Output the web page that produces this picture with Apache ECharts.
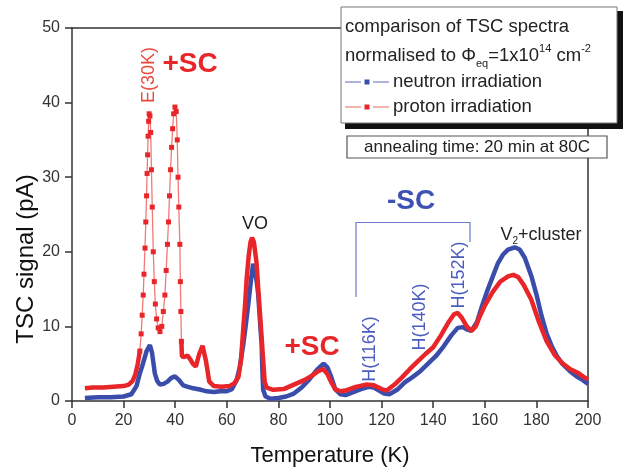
<!DOCTYPE html>
<html>
<head>
<meta charset="utf-8">
<script src="https://cdn.jsdelivr.net/npm/echarts@6/dist/echarts.min.js"></script>
<style>html,body{margin:0;padding:0;background:#fff;}#c{width:623px;height:472px;}</style>
</head>
<body>
<div id="c"></div>
<script>
// ---- data ----
const xTicks = [0, 20, 40, 60, 80, 100, 120, 140, 160, 180, 200];
const yTicks = [0, 10, 20, 30, 40, 50];

const neutronT = [5, 10, 15, 20, 23, 25, 26.3, 27.5, 28.9, 30.2, 31, 31.6, 32.1, 33, 34.1, 35.5, 37, 38.5, 39.9, 41.5, 43.1, 45, 47, 50, 52.2, 55, 57.3, 60, 62, 63.8, 65, 66.4, 67.4, 68.3, 69.3, 70.2, 71, 71.6, 72.2, 72.8, 73.5, 73.8, 74.1, 75, 77, 80, 83, 86, 89, 92, 95, 97.5, 99, 100.5, 102, 104, 106, 109, 112, 115, 117, 119, 121, 123, 126, 129, 132, 135, 138, 141, 144, 147, 149.5, 151.5, 153, 154.8, 157, 159, 161, 163, 165, 167, 169, 171.6, 173.5, 175.5, 178, 180, 182, 184, 186, 188, 190, 193, 196, 198, 200];
const neutronV = [0.4, 0.5, 0.5, 0.6, 0.9, 2.0, 3.7, 5.0, 6.7, 7.5, 6.5, 5.0, 3.7, 2.7, 2.2, 2.3, 2.6, 3.1, 3.3, 2.8, 2.1, 1.9, 1.7, 1.5, 1.3, 1.2, 1.3, 1.3, 1.6, 2.8, 4.5, 7.6, 10.3, 12.9, 16.0, 18.4, 17.3, 16.0, 14.2, 11.0, 7.6, 4.0, 1.5, 0.6, 0.3, 0.4, 0.6, 1.0, 1.8, 2.9, 4.2, 5.0, 4.5, 3.2, 1.6, 0.9, 0.8, 1.2, 1.6, 1.9, 1.8, 1.4, 1.0, 0.9, 1.5, 2.5, 3.2, 4.0, 5.0, 6.0, 7.3, 8.8, 9.8, 9.9, 9.6, 9.4, 10.6, 12.8, 14.8, 16.6, 18.4, 19.6, 20.3, 20.6, 20.3, 19.2, 16.8, 14.3, 11.4, 9.0, 7.3, 6.0, 5.0, 4.0, 3.2, 2.8, 2.3];

const protonT = [5, 8, 12, 16, 20, 22, 23.5, 24.5, 25.5, 26.3, 26.8, 27.2, 27.6, 27.9, 28.3, 28.6, 28.9, 29.1, 29.3, 29.5, 29.7, 29.9, 30.2, 30.5, 30.8, 31.1, 31.5, 31.9, 32.3, 32.8, 33.4, 34.1, 34.8, 35.4, 36, 36.5, 37, 37.4, 37.8, 38.2, 38.6, 39, 39.4, 39.9, 40.4, 40.8, 41.1, 41.4, 41.8, 42, 42.2, 42.4, 42.6, 43.5, 44.8, 46, 46.8, 48, 49.3, 50.6, 51.9, 53.2, 55, 58, 61, 63, 64.5, 65.5, 66.4, 67.1, 67.7, 68.5, 69.2, 69.8, 70.5, 71.5, 72.2, 72.8, 73.5, 74.1, 74.7, 75.5, 78, 82, 86, 90, 93, 95.5, 97.3, 99, 100.5, 102, 104, 106, 110, 114, 117, 120, 122, 125, 128, 131, 134, 137, 140, 143, 146, 148, 149.5, 151, 153, 154.8, 156.5, 158, 160, 163, 166, 169, 171, 173, 175, 178, 181, 184, 187, 190, 193, 196, 198, 200];
const protonV = [1.7, 1.8, 1.8, 1.9, 2.0, 2.2, 2.7, 3.5, 5.0, 6.7, 9.0, 11.5, 14.2, 17.0, 20.5, 24.0, 27.5, 30.5, 33.0, 35.5, 37.5, 38.5, 38.2, 36.0, 31.0, 26.0, 20.0, 16.0, 13.0, 11.0, 9.8, 9.3, 10.0, 12.0, 14.2, 17.5, 21.0, 24.0, 27.5, 31.0, 34.0, 36.5, 38.5, 39.4, 38.8, 35.0, 30.0, 26.0, 21.0, 16.0, 12.0, 8.0, 6.0, 5.9, 6.1, 5.5, 5.0, 4.6, 6.3, 7.4, 5.4, 2.6, 2.0, 1.9, 2.0, 2.4, 3.2, 5.5, 9.8, 13.0, 16.4, 19.5, 21.3, 21.9, 21.3, 18.6, 15.0, 12.0, 8.5, 5.4, 2.5, 1.8, 1.5, 1.6, 2.2, 2.8, 3.4, 4.0, 4.3, 3.6, 2.5, 1.6, 1.3, 1.4, 1.9, 2.2, 2.1, 1.6, 1.4, 2.2, 3.2, 4.3, 5.3, 6.3, 7.2, 8.8, 10.6, 11.6, 11.8, 11.2, 10.0, 9.4, 10.0, 11.3, 12.8, 14.6, 16.0, 16.7, 16.9, 16.6, 15.6, 13.6, 10.6, 8.0, 6.2, 5.1, 4.3, 3.8, 3.3, 2.9];

// temperature range where the proton curve is drawn as thin line with square markers
const PEAK_LO = 26.3, PEAK_HI = 42.4;

const RED = '#e8262a', BLUE = '#3a4dab', LBLUE = '#4a5cc0';
const FONT = '"Liberation Sans", Arial, Helvetica, sans-serif';

const neutronData = neutronT.map((t, i) => [t, neutronV[i]]);
const protonThick = [];
const protonThin = [];
let gapInserted = false;
protonT.forEach((t, i) => {
  const p = [t, protonV[i]];
  if (t <= PEAK_LO || t >= PEAK_HI) {
    if (t >= PEAK_HI && !gapInserted) { protonThick.push([(PEAK_LO + PEAK_HI) / 2, '-']); gapInserted = true; }
    protonThick.push(p);
  }
  if (t >= PEAK_LO && t <= PEAK_HI) protonThin.push(p);
});

const chart = echarts.init(document.getElementById('c'), null, { renderer: 'canvas' });

const axisLineStyle = { show: true, onZero: false, lineStyle: { color: '#333', width: 1.5 } };

const option = {
  animation: false,
  backgroundColor: '#fff',
  grid: { left: 72, right: 35, top: 28, bottom: 64, show: false },
  xAxis: [{
    type: 'value', min: xTicks[0], max: xTicks[xTicks.length - 1], interval: xTicks[1] - xTicks[0],
    axisLine: axisLineStyle, splitLine: { show: false },
    axisTick: { show: true, inside: false, length: 7, lineStyle: { color: '#333', width: 1.5 } },
    axisLabel: { color: '#333', fontSize: 16, fontFamily: FONT, margin: 12 },
    name: 'Temperature (K)', nameLocation: 'middle', nameGap: 44,
    nameTextStyle: { color: '#111', fontSize: 22, fontFamily: FONT }
  }, {
    type: 'value', position: 'top', min: xTicks[0], max: xTicks[xTicks.length - 1],
    axisLine: axisLineStyle, splitLine: { show: false }, axisTick: { show: false }, axisLabel: { show: false }
  }],
  yAxis: [{
    type: 'value', min: yTicks[0], max: yTicks[yTicks.length - 1], interval: yTicks[1] - yTicks[0],
    axisLine: axisLineStyle, splitLine: { show: false },
    axisTick: { show: true, inside: false, length: 7, lineStyle: { color: '#333', width: 1.5 } },
    axisLabel: { color: '#333', fontSize: 16, fontFamily: FONT, margin: 12 }
  }, {
    type: 'value', position: 'right', min: yTicks[0], max: yTicks[yTicks.length - 1],
    axisLine: axisLineStyle, splitLine: { show: false }, axisTick: { show: false }, axisLabel: { show: false }
  }],
  series: [{
    name: 'neutron irradiation', type: 'line', data: neutronData,
    showSymbol: false, symbol: 'none', smooth: false,
    lineStyle: { color: BLUE, width: 4.5 }, itemStyle: { color: BLUE }, z: 2
  }, {
    name: 'proton irradiation', type: 'line', data: protonThick,
    showSymbol: false, symbol: 'none', connectNulls: false,
    lineStyle: { color: RED, width: 4.5 }, itemStyle: { color: RED }, z: 3
  }, {
    name: 'proton irradiation peaks', type: 'line', data: protonThin,
    symbol: 'rect', symbolSize: 5, showAllSymbol: true,
    lineStyle: { color: '#f07a78', width: 1.3 }, itemStyle: { color: RED }, z: 4
  }],
  graphic: [
    // y axis title (placed off-centre as in the reference)
    { type: 'text', x: 26, y: 259, rotation: Math.PI / 2, z: 50, style: { text: 'TSC signal (pA)', font: '24px ' + FONT, fill: '#111', align: 'center', verticalAlign: 'middle' } },
    // legend box with shadow
    { type: 'rect', shape: { x: 345, y: 11, width: 278, height: 118 }, style: { fill: '#111' }, z: 100 },
    { type: 'rect', shape: { x: 341, y: 7, width: 276, height: 116 }, style: { fill: '#fff', stroke: '#777', lineWidth: 1 }, z: 101 },
    { type: 'text', x: 345, y: 27, z: 102, style: { text: 'comparison of TSC spectra', font: '18.5px ' + FONT, fill: '#222', verticalAlign: 'middle' } },
    { type: 'text', x: 345, y: 56, z: 102, style: {
        text: 'normalised to Φ{sub|eq}=1x10{sup|14} cm{sup|-2}', font: '18.5px ' + FONT, fill: '#222', verticalAlign: 'middle', lineHeight: 26,
        rich: { sub: { fontSize: 11, fontFamily: FONT, verticalAlign: 'bottom', lineHeight: 26 },
                sup: { fontSize: 11, fontFamily: FONT, verticalAlign: 'top', lineHeight: 26 } } } },
    { type: 'line', shape: { x1: 345, y1: 82, x2: 361, y2: 82 }, style: { stroke: '#7f89d2', lineWidth: 1.3 }, z: 102 },
    { type: 'rect', shape: { x: 364.5, y: 79.5, width: 5, height: 5 }, style: { fill: BLUE }, z: 102 },
    { type: 'line', shape: { x1: 373, y1: 82, x2: 389, y2: 82 }, style: { stroke: '#7f89d2', lineWidth: 1.3 }, z: 102 },
    { type: 'text', x: 393, y: 82, z: 102, style: { text: 'neutron irradiation', font: '18.5px ' + FONT, fill: '#222', verticalAlign: 'middle' } },
    { type: 'line', shape: { x1: 345, y1: 107, x2: 361, y2: 107 }, style: { stroke: '#f08a86', lineWidth: 1.3 }, z: 102 },
    { type: 'rect', shape: { x: 364.5, y: 104.5, width: 5, height: 5 }, style: { fill: RED }, z: 102 },
    { type: 'line', shape: { x1: 373, y1: 107, x2: 389, y2: 107 }, style: { stroke: '#f08a86', lineWidth: 1.3 }, z: 102 },
    { type: 'text', x: 393, y: 107, z: 102, style: { text: 'proton irradiation', font: '18.5px ' + FONT, fill: '#222', verticalAlign: 'middle' } },
    // annealing box
    { type: 'rect', shape: { x: 347, y: 136, width: 260, height: 22 }, style: { fill: '#fff', stroke: '#555', lineWidth: 1.2 }, z: 101 },
    { type: 'text', x: 477, y: 147.5, z: 102, style: { text: 'annealing time: 20 min at 80C', font: '17px ' + FONT, fill: '#222', align: 'center', verticalAlign: 'middle' } },
    // annotations
    { type: 'text', x: 149, y: 75, rotation: Math.PI / 2, z: 50, style: { text: 'E(30K)', font: '18px ' + FONT, fill: '#ea4a3c', align: 'center', verticalAlign: 'middle' } },
    { type: 'text', x: 190, y: 64, z: 50, style: { text: '+SC', font: 'bold 28px ' + FONT, fill: RED, align: 'center', verticalAlign: 'middle' } },
    { type: 'text', x: 255, y: 224, z: 50, style: { text: 'VO', font: '18px ' + FONT, fill: '#222', align: 'center', verticalAlign: 'middle' } },
    { type: 'text', x: 312, y: 347, z: 50, style: { text: '+SC', font: 'bold 28px ' + FONT, fill: RED, align: 'center', verticalAlign: 'middle' } },
    { type: 'text', x: 411, y: 201, z: 50, style: { text: '-SC', font: 'bold 28px ' + FONT, fill: '#3f51b5', align: 'center', verticalAlign: 'middle' } },
    { type: 'polyline', shape: { points: [[356, 297], [356, 222.5], [470, 222.5], [470, 242]] }, style: { stroke: '#6f7bcc', lineWidth: 1.2, fill: null }, z: 50 },
    { type: 'text', x: 370, y: 349, rotation: Math.PI / 2, z: 50, style: { text: 'H(116K)', font: '18px ' + FONT, fill: LBLUE, align: 'center', verticalAlign: 'middle' } },
    { type: 'text', x: 420, y: 317, rotation: Math.PI / 2, z: 50, style: { text: 'H(140K)', font: '18px ' + FONT, fill: LBLUE, align: 'center', verticalAlign: 'middle' } },
    { type: 'text', x: 459, y: 275, rotation: Math.PI / 2, z: 50, style: { text: 'H(152K)', font: '18px ' + FONT, fill: LBLUE, align: 'center', verticalAlign: 'middle' } },
    { type: 'text', x: 541, y: 235, z: 50, style: {
        text: 'V{sub|2}+cluster', font: '18px ' + FONT, fill: '#222', align: 'center', verticalAlign: 'middle', lineHeight: 22,
        rich: { sub: { fontSize: 10, fontFamily: FONT, verticalAlign: 'bottom', lineHeight: 22 } } } }
  ]
};
chart.setOption(option);
</script>
</body>
</html>
